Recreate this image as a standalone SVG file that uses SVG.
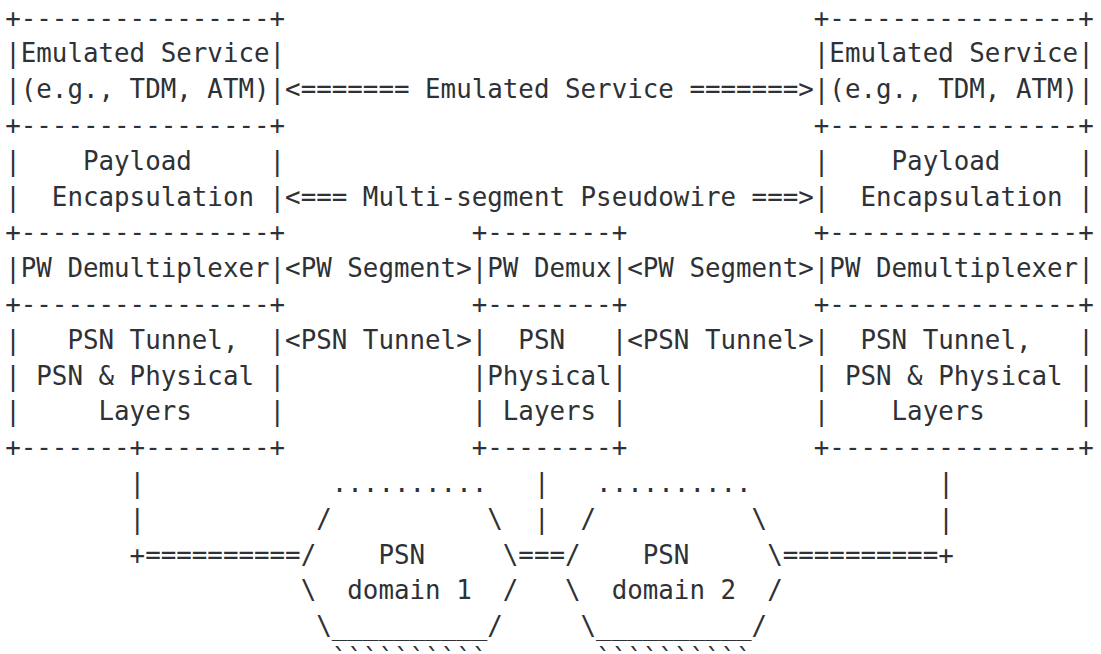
<svg xmlns="http://www.w3.org/2000/svg" width="1101" height="654" viewBox="0 0 1101 654">
<style>
text{font-family:"DejaVu Sans Mono","Liberation Mono",monospace;font-size:25.83px;fill:#2e3135;white-space:pre}
</style>
<rect width="1101" height="654" fill="#ffffff"/>
<g id="left-stack">
<text xml:space="preserve"><tspan x="5.2" y="26.5">+----------------+</tspan><tspan x="5.2" y="62.3">|Emulated Service|</tspan><tspan x="5.2" y="98.1">|(e.g., TDM, ATM)|</tspan><tspan x="5.2" y="133.9">+----------------+</tspan><tspan x="5.2" y="169.7">|    Payload     |</tspan><tspan x="5.2" y="205.5">|  Encapsulation |</tspan><tspan x="5.2" y="241.3">+----------------+</tspan><tspan x="5.2" y="277.1">|PW Demultiplexer|</tspan><tspan x="5.2" y="312.9">+----------------+</tspan><tspan x="5.2" y="348.7">|   PSN Tunnel,  |</tspan><tspan x="5.2" y="384.5">| PSN &amp; Physical |</tspan><tspan x="5.2" y="420.3">|     Layers     |</tspan><tspan x="5.2" y="456.1">+-------+--------+</tspan></text>
</g>
<g id="middle-stack">
<text xml:space="preserve"><tspan x="471.7" y="241.3">+--------+</tspan><tspan x="471.7" y="277.1">|PW Demux|</tspan><tspan x="471.7" y="312.9">+--------+</tspan><tspan x="471.7" y="348.7">|  PSN   |</tspan><tspan x="471.7" y="384.5">|Physical|</tspan><tspan x="471.7" y="420.3">| Layers |</tspan><tspan x="471.7" y="456.1">+--------+</tspan></text>
</g>
<g id="right-stack">
<text xml:space="preserve"><tspan x="813.8" y="26.5">+----------------+</tspan><tspan x="813.8" y="62.3">|Emulated Service|</tspan><tspan x="813.8" y="98.1">|(e.g., TDM, ATM)|</tspan><tspan x="813.8" y="133.9">+----------------+</tspan><tspan x="813.8" y="169.7">|    Payload     |</tspan><tspan x="813.8" y="205.5">|  Encapsulation |</tspan><tspan x="813.8" y="241.3">+----------------+</tspan><tspan x="813.8" y="277.1">|PW Demultiplexer|</tspan><tspan x="813.8" y="312.9">+----------------+</tspan><tspan x="813.8" y="348.7">|  PSN Tunnel,   |</tspan><tspan x="813.8" y="384.5">| PSN &amp; Physical |</tspan><tspan x="813.8" y="420.3">|    Layers      |</tspan><tspan x="813.8" y="456.1">+----------------+</tspan></text>
</g>
<g id="psn-domain-1">
<text xml:space="preserve"><tspan x="331.75" y="491.9">..........</tspan><tspan x="316.2" y="527.7">/          \</tspan><tspan x="300.65" y="563.5">/    PSN     \</tspan><tspan x="300.65" y="599.3">\  domain 1  /</tspan><tspan x="316.2" y="635.1">\__________/</tspan><tspan x="331.75" y="667.5">``````````</tspan></text>
</g>
<g id="psn-domain-2">
<text xml:space="preserve"><tspan x="596.1" y="491.9">..........</tspan><tspan x="580.55" y="527.7">/          \</tspan><tspan x="565.0" y="563.5">/    PSN     \</tspan><tspan x="565.0" y="599.3">\  domain 2  /</tspan><tspan x="580.55" y="635.1">\__________/</tspan><tspan x="596.1" y="667.5">``````````</tspan></text>
</g>
<g id="connectors">
<text xml:space="preserve"><tspan x="285.1" y="98.1">&lt;======= Emulated Service =======&gt;</tspan><tspan x="285.1" y="205.5">&lt;=== Multi-segment Pseudowire ===&gt;</tspan><tspan x="285.1" y="277.1">&lt;PW Segment&gt;</tspan><tspan x="627.2" y="277.1">&lt;PW Segment&gt;</tspan><tspan x="285.1" y="348.7">&lt;PSN Tunnel&gt;</tspan><tspan x="627.2" y="348.7">&lt;PSN Tunnel&gt;</tspan></text>
<text xml:space="preserve"><tspan x="129.6" y="491.9">|</tspan><tspan x="533.9" y="491.9">|</tspan><tspan x="938.2" y="491.9">|</tspan><tspan x="129.6" y="527.7">|</tspan><tspan x="533.9" y="527.7">|</tspan><tspan x="938.2" y="527.7">|</tspan><tspan x="129.6" y="563.5">+==========</tspan><tspan x="518.35" y="563.5">===</tspan><tspan x="782.7" y="563.5">==========+</tspan></text>
</g>
</svg>
